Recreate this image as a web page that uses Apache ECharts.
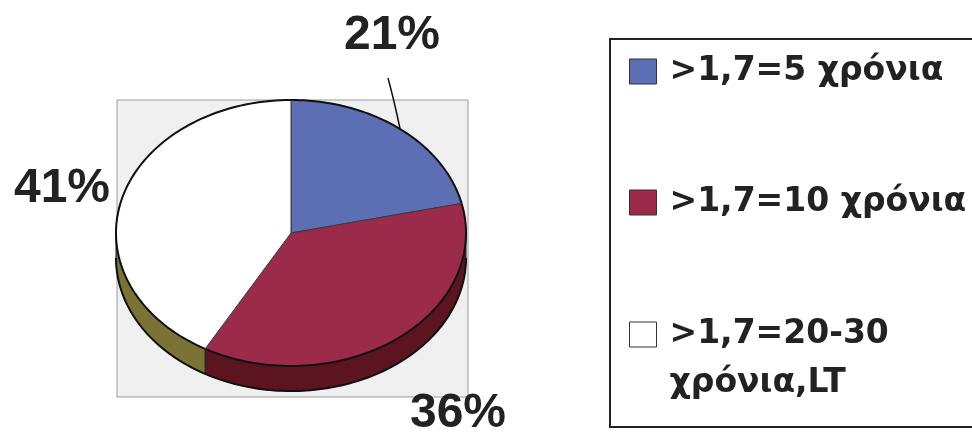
<!DOCTYPE html>
<html>
<head>
  <meta charset="UTF-8">
  <title>pie</title>
  <style type="text/css">
    html, body {padding: 0; margin: 0; background: #fff;}
    #chart {width: 972px; height: 437px;}
  </style>
</head>
<body>
  <div id="chart"></div>
  <script src="https://cdn.jsdelivr.net/npm/echarts@6/dist/echarts.min.js"></script>
  <script type="text/javascript">
    // data
    var categories = ['>1,7=5 χρόνια', '>1,7=10 χρόνια', '>1,7=20-30 χρόνια,LT'];
    var values = [21, 36, 41];

    var topColors = ['#5c6fb5', '#9c2a4b', '#ffffff'];
    var sideColors = ['#2f3a6a', '#5c1420', '#7b7236'];

    // pie geometry (ellipse, tilted look)
    var cx = 291, cy = 233, rx = 175, ry = 133, depth = 25;
    // label centres: blue, red, white
    var labelXY = [[392, 36], [458, 414], [62, 189]];

    var total = 0;
    values.forEach(function (v) { total += v; });

    function pt(deg, dy) {
      var a = deg * Math.PI / 180;
      return [cx + rx * Math.cos(a), cy - ry * Math.sin(a) + (dy || 0)];
    }

    function arc(from, to, dy) {
      var pts = [], n = 90;
      for (var i = 0; i <= n; i++) {
        pts.push(pt(from + (to - from) * i / n, dy));
      }
      return pts;
    }

    function makeRender(k) {
      return function (params, api) {
        var before = 0;
        for (var i = 0; i < k; i++) before += values[i];
        var v = api.value(0);
        var a0 = 90 - before / total * 360;
        var a1 = a0 - v / total * 360;
        var children = [];

        // side wall, only the front (lower) half shows
        var hi = Math.min(a0, 0), lo = Math.max(a1, -180);
        if (hi > lo) {
          var upper = arc(hi, lo, 0);
          var lower = arc(lo, hi, depth);
          children.push({
            type: 'polygon',
            shape: {points: upper.concat(lower)},
            style: {fill: sideColors[k], stroke: '#1e1e1e', lineWidth: 1}
          });
          children.push({
            type: 'polyline',
            shape: {points: arc(hi, lo, depth)},
            style: {fill: null, stroke: '#111', lineWidth: 2}
          });
        }

        // top face
        var face = [[cx, cy]].concat(arc(a0, a1, 0));
        children.push({
          type: 'polygon',
          shape: {points: face},
          style: {fill: topColors[k], stroke: '#3a3a3a', lineWidth: 1}
        });
        children.push({
          type: 'polyline',
          shape: {points: arc(a0, a1, 0)},
          style: {fill: null, stroke: '#111', lineWidth: 2}
        });

        // percent label
        var mid = (a0 + a1) / 2;
        if (k === 0) {
          var e = pt(mid, 0);
          children.push({
            type: 'bezierCurve',
            shape: {x1: labelXY[k][0] - 4, y1: 78, x2: e[0], y2: e[1], cpx1: labelXY[k][0] + 2, cpy1: 100},
            style: {fill: null, stroke: '#111', lineWidth: 1.5}
          });
        }
        children.push({
          type: 'text',
          style: {
            x: labelXY[k][0], y: labelXY[k][1],
            text: v + '%',
            align: 'center', verticalAlign: 'middle',
            fill: '#222',
            font: 'bold 48px "Liberation Sans", Arial, sans-serif'
          }
        });

        return {type: 'group', children: children};
      };
    }

    var legendTops = [42, 173, 256];
    var legends = categories.map(function (name, i) {
      return {
        data: [name],
        left: 624,
        top: legendTops[i],
        orient: 'vertical',
        icon: 'rect',
        itemWidth: 27,
        itemHeight: 25,
        selectedMode: false,
        itemStyle: {borderColor: '#333', borderWidth: 1},
        formatter: function (n) {
          // last entry wraps onto two lines, first line level with the box
          return n.indexOf(',LT') > 0 ? '\n' + n.replace(' χρόνια,LT', '\nχρόνια,LT') : n;
        },
        textStyle: {
          fontFamily: '"DejaVu Sans", sans-serif',
          fontWeight: 'bold',
          fontSize: 33,
          color: '#222',
          lineHeight: 49,
          padding: [0, 0, 0, 8]
        }
      };
    });

    var option = {
      backgroundColor: '#ffffff',
      animation: false,
      legend: legends,
      graphic: [
        {
          type: 'rect',
          shape: {x: 117, y: 100, width: 351, height: 297},
          style: {fill: '#f0f0f0', stroke: '#9a9a9a', lineWidth: 1},
          z: 0
        },
        {
          type: 'rect',
          shape: {x: 610, y: 39, width: 420, height: 388},
          style: {fill: null, stroke: '#222', lineWidth: 2},
          z: 0
        }
      ],
      series: categories.map(function (name, k) {
        return {
          type: 'custom',
          name: name,
          coordinateSystem: 'none',
          itemStyle: {color: topColors[k]},
          renderItem: makeRender(k),
          data: [[values[k]]]
        };
      })
    };

    var myChart = echarts.init(document.getElementById('chart'));
    myChart.setOption(option);
  </script>
</body>
</html>
